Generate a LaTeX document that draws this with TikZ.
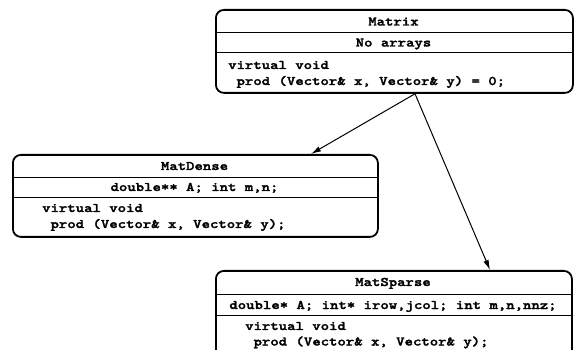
\documentclass[tikz,border=0pt]{standalone}
\usepackage{fontspec}
\newfontfamily\codefont{lmmonolt10-bold.otf}[FakeStretch=1.22,FakeBold=2]
\usetikzlibrary{arrows.meta,calc}
\begin{document}
\begin{tikzpicture}[x=1pt,y=-1pt,
  box/.style={draw, line width=1.8pt, rounded corners=8pt, inner sep=0pt, anchor=north west},
  sep/.style={line width=0.9pt},
  txt/.style={font=\codefont\fontsize{13.1}{15}\selectfont, inner sep=0pt, anchor=base},
  ltxt/.style={txt, anchor=base west},
  arr/.style={line width=1pt, -{Latex[length=10pt,width=5.5pt]}}]
\useasboundingbox (0,0) rectangle (574,350);
\clip (0,0) rectangle (574,350);
% Matrix
\node[box, minimum width=357pt, minimum height=83pt] (M) at (215,9) {};
\draw[sep] (215,32) -- (572,32);
\draw[sep] (215,52) -- (572,52);
\node[txt] (Mt) at (393.5,25.5) {Matrix};
\node[txt] (Ma) at (393.5,46.5) {No arrays};
\node[ltxt] (Mv) at (228,69) {virtual void};
\node[ltxt] (Mp) at (228,85) {\ prod (Vector\& x, Vector\& y) = 0;};
% MatDense
\node[box, minimum width=365pt, minimum height=82pt] (D) at (12,154) {};
\draw[sep] (12,177) -- (377,177);
\draw[sep] (12,197) -- (377,197);
\node[txt] (Dt) at (194.5,170) {MatDense};
\node[txt] (Da) at (194.5,191) {double** A; int m,n;};
\node[ltxt] (Dv) at (42,212) {virtual void};
\node[ltxt] (Dp) at (42,228) {\ prod (Vector\& x, Vector\& y);};
% MatSparse
\node[box, minimum width=356pt, minimum height=100pt] (S) at (215,270) {};
\draw[sep] (215,294) -- (571,294);
\draw[sep] (215,315) -- (571,315);
\node[txt] (St) at (393,286) {MatSparse};
\node[txt] (Sa) at (393,309) {double* A; int* irow,jcol; int m,n,nnz;};
\node[ltxt] (Sv) at (245,330) {virtual void};
\node[ltxt] (Sp) at (245,345.5) {\ prod (Vector\& x, Vector\& y);};
% arrows
\draw[arr] ($(M.south west)+(200,0)$) -- ($(D.north west)+(299,0)$);
\draw[arr] ($(M.south west)+(200,0)$) -- ($(S.north west)+(275,0)$);
\end{tikzpicture}
\end{document}
